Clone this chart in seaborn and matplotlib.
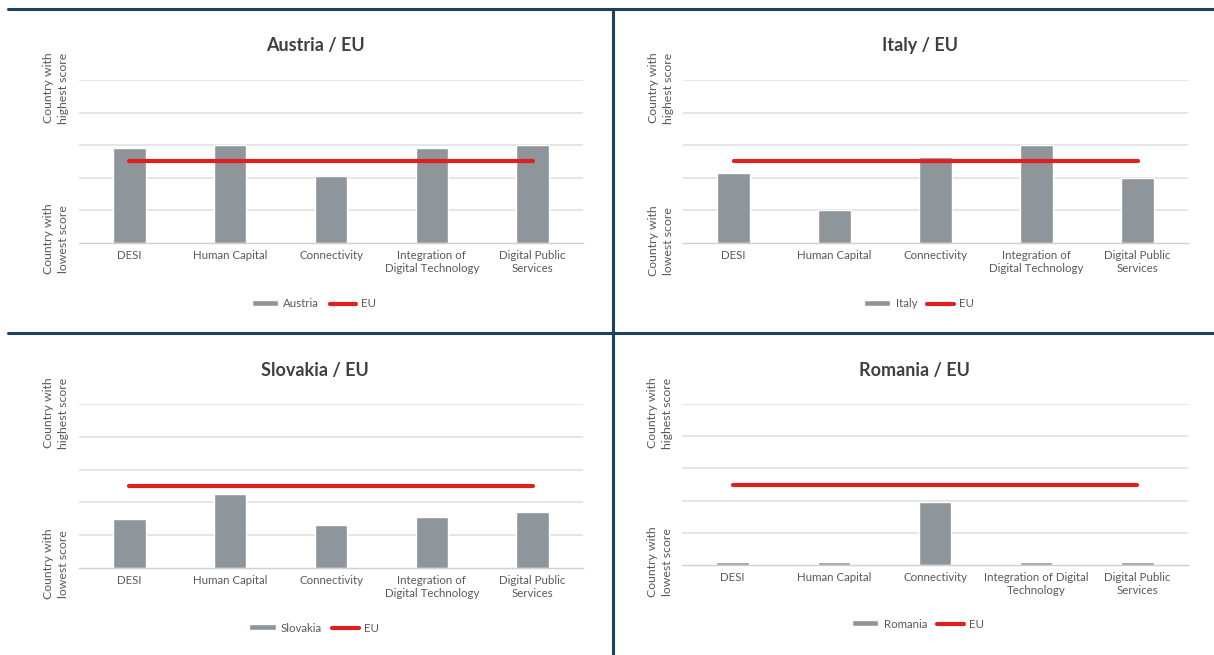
import numpy as np
import matplotlib.pyplot as plt
from matplotlib.lines import Line2D
import seaborn as sns

# Categories and scores (0 = country with lowest score, 100 = country with highest score)
categories = ["DESI", "Human Capital", "Connectivity",
              "Integration of\nDigital Technology", "Digital Public\nServices"]
categories_ro = ["DESI", "Human Capital", "Connectivity",
                 "Integration of Digital\nTechnology", "Digital Public\nServices"]

austria = [58, 60, 41, 58, 60]
italy = [43, 20, 53, 60, 40]
slovakia = [30, 45, 26, 31, 34]
romania = [2, 2, 39, 2, 2]
eu = [50, 50, 50, 50, 50]

W, H = 1214, 655
bar_color = "#8e959b"
eu_color = "#e0201f"
grid_color = "#e2e2e2"
text_color = "#595959"
title_color = "#3f3f3f"
rule_color = "#1e4257"

sns.set_theme(style="white")
plt.rcParams["font.family"] = ["Lato", "DejaVu Sans"]

fig = plt.figure(figsize=(W / 100, H / 100), dpi=100)


def fx(x):
    return x / W


def fy(y):
    return 1 - y / H


# panel layout in pixels: axes left, right, top gridline, baseline, plus title/legend positions
panels = [
    dict(name="Austria", vals=austria, cats=categories, left=79, right=583, top=80, base=243,
         tx=315, ty=46, lx=314, ly=304, ylx=56, yhi=88, ylo=239),
    dict(name="Italy", vals=italy, cats=categories, left=683, right=1188, top=80, base=243,
         tx=920, ty=46, lx=919, ly=304, ylx=661, yhi=88, ylo=241),
    dict(name="Slovakia", vals=slovakia, cats=categories, left=79, right=583, top=404, base=568,
         tx=315, ty=370, lx=314, ly=628, ylx=56, yhi=413, ylo=564),
    dict(name="Romania", vals=romania, cats=categories_ro, left=682, right=1188, top=404, base=565,
         tx=914, ty=370, lx=918, ly=624, ylx=660, yhi=413, ylo=562),
]

for p in panels:
    ax = fig.add_axes([fx(p["left"]), fy(p["base"]),
                       fx(p["right"] - p["left"]), (p["base"] - p["top"]) / H])
    sns.barplot(x=p["cats"], y=p["vals"], color=bar_color, saturation=1, width=0.32,
                label=p["name"], ax=ax, zorder=2)
    sns.lineplot(x=np.arange(len(p["cats"])), y=eu, color=eu_color, linewidth=3,
                 label="EU", ax=ax, zorder=3)
    ax.set_xlim(-0.5, len(p["cats"]) - 0.5)
    ax.set_ylim(0, 100)
    ax.set_yticks([20, 40, 60, 80, 100])
    ax.set_yticklabels([])
    ax.yaxis.grid(True, color=grid_color, linewidth=1.2, zorder=0)
    ax.set_axisbelow(True)
    for s in ["top", "right", "left"]:
        ax.spines[s].set_visible(False)
    ax.spines["bottom"].set_color("#d0d0d0")
    ax.spines["bottom"].set_linewidth(1)
    ax.set_xticks(np.arange(len(p["cats"])))
    ax.set_xticklabels(p["cats"], fontsize=8.3, color=text_color, linespacing=1.25)
    ax.tick_params(axis="x", which="major", length=0, pad=5)
    ax.set_xticks(np.arange(len(p["cats"]) + 1) - 0.5, minor=True)
    ax.tick_params(axis="x", which="minor", length=4, color="#d0d0d0", width=1)
    ax.tick_params(axis="y", length=0)
    ax.set_xlabel("")
    ax.set_ylabel("")

    handles, labels = ax.get_legend_handles_labels()
    order = [labels.index(p["name"]), labels.index("EU")]
    ax.legend([handles[i] for i in order], [labels[i] for i in order],
              loc="center", bbox_to_anchor=(fx(p["lx"]), fy(p["ly"])),
              bbox_transform=fig.transFigure, ncol=2, frameon=False, fontsize=8.3,
              handlelength=2.3, handleheight=0.45, columnspacing=0.9, handletextpad=0.45,
              labelcolor=text_color)

    fig.text(fx(p["tx"]), fy(p["ty"]), f"{p['name']} / EU", ha="center", va="center",
             fontsize=13, fontweight="bold", color=title_color)
    fig.text(fx(p["ylx"]), fy(p["yhi"]), "Country with\nhighest score", rotation=90,
             ha="center", va="center", fontsize=8.8, color=text_color, linespacing=1.35)
    fig.text(fx(p["ylx"]), fy(p["ylo"]), "Country with\nlowest score", rotation=90,
             ha="center", va="center", fontsize=8.8, color=text_color, linespacing=1.35)

# dark panel rules
fig.add_artist(Line2D([fx(8), 1], [fy(9), fy(9)], color=rule_color, linewidth=2.2))
fig.add_artist(Line2D([fx(8), 1], [fy(333), fy(333)], color=rule_color, linewidth=2.2))
fig.add_artist(Line2D([fx(613), fx(613)], [fy(9), 0], color=rule_color, linewidth=2.2))

fig.savefig("out.png", dpi=100, facecolor="white")
